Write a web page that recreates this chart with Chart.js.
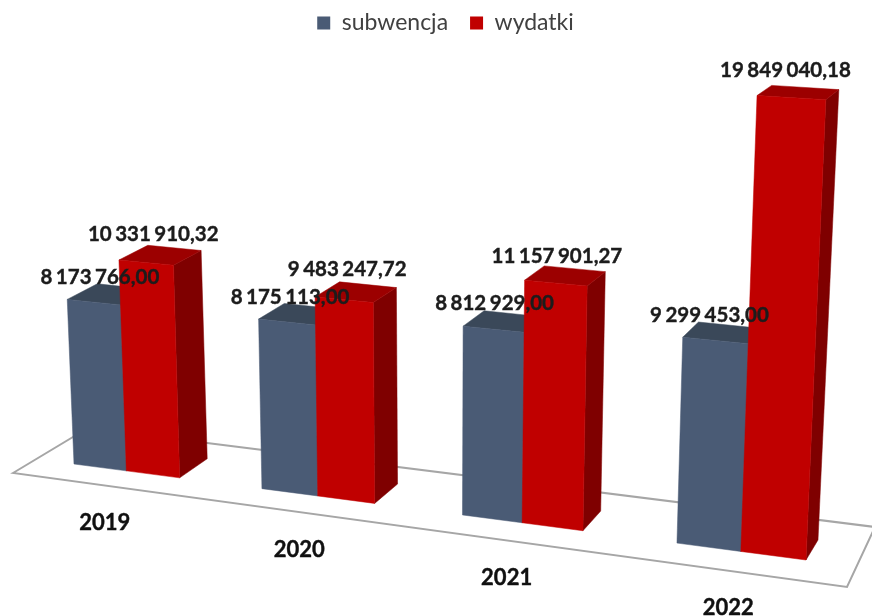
<!DOCTYPE html>
<html>
<head>
<meta charset="utf-8">
<script src="https://cdn.jsdelivr.net/npm/chart.js@4/dist/chart.umd.min.js"></script>
<style>
  html, body { margin: 0; padding: 0; background: #fff; }
  canvas { display: block; }
</style>
</head>
<body>
<canvas id="myChart" width="872" height="616"></canvas>
<script>
var years = ['2019', '2020', '2021', '2022'];
var subwencja = [8173766.00, 8175113.00, 8812929.00, 9299453.00];
var wydatki = [10331910.32, 9483247.72, 11157901.27, 19849040.18];
var axisMax = 20000000;

// where the flat plot rectangle lands on screen: [bottom left, bottom right, top right, top left]
var frontQuad = [[74, 464], [806, 560], [826, 96], [57, 50]];
var backQuad = [[104, 445], [818, 540], [839, 86], [87, 39]];
var floorQuad = [[13, 473], [88, 428], [875, 527], [847, 587]];

// label nudges in px, from the centre of the bar's front face
var labelNudge = [
    [[6, -25], [3, -25], [1, -26], [-6, -25]],
    [[7, -28], [3, -30], [1, -27], [-6, -27]]
];

var faces = [
    { front: '#4a5b75', side: '#35424f', top: '#3a4859' },
    { front: '#c00000', side: '#7f0000', top: '#9c0000' }
];

// unit square to quad (Heckbert)
function quadMap(q) {
    var x0 = q[0][0], y0 = q[0][1], x1 = q[1][0], y1 = q[1][1];
    var x2 = q[2][0], y2 = q[2][1], x3 = q[3][0], y3 = q[3][1];
    var dx1 = x1 - x2, dx2 = x3 - x2, sx = x0 - x1 + x2 - x3;
    var dy1 = y1 - y2, dy2 = y3 - y2, sy = y0 - y1 + y2 - y3;
    var den = dx1 * dy2 - dx2 * dy1;
    var g = (sx * dy2 - dx2 * sy) / den;
    var h = (dx1 * sy - sx * dy1) / den;
    var a = x1 - x0 + g * x1, b = x3 - x0 + h * x3;
    var d = y1 - y0 + g * y1, e = y3 - y0 + h * y3;
    return function (u, v) {
        var w = g * u + h * v + 1;
        return [(a * u + b * v + x0) / w, (d * u + e * v + y0) / w];
    };
}

function formatValue(v) {
    var parts = v.toFixed(2).split('.');
    return parts[0].replace(/\B(?=(\d{3})+$)/g, ' ') + ',' + parts[1];
}

function poly(ctx, pts, color) {
    ctx.beginPath();
    pts.forEach(function (p, i) {
        if (i == 0) ctx.moveTo(p[0], p[1]); else ctx.lineTo(p[0], p[1]);
    });
    ctx.closePath();
    ctx.fillStyle = color;
    ctx.fill();
    ctx.strokeStyle = color;
    ctx.lineWidth = 0.5;
    ctx.stroke();
}

// Lato bold is a bit lighter than the original face
function heavyText(ctx, text, x, y) {
    ctx.fillText(text, x, y);
    ctx.strokeText(text, x, y);
}

var bars3d = {
    id: 'bars3d',
    beforeDatasetsDraw: function (chart) {
        var ctx = chart.ctx;
        ctx.save();
        ctx.beginPath();
        floorQuad.forEach(function (p, i) {
            if (i == 0) ctx.moveTo(p[0], p[1]); else ctx.lineTo(p[0], p[1]);
        });
        ctx.closePath();
        ctx.strokeStyle = '#a6a6a6';
        ctx.lineWidth = 2;
        ctx.stroke();
        ctx.restore();
    },
    // the flat bars are replaced below
    beforeDatasetDraw: function () {
        return false;
    },
    afterDatasetsDraw: function (chart) {
        var ctx = chart.ctx;
        var first = chart.getDatasetMeta(0).data[0];
        var last = chart.getDatasetMeta(1).data[years.length - 1];
        var left = first.x - first.width / 2;
        var right = last.x + last.width / 2;
        var yZero = chart.scales.y.getPixelForValue(0);
        var yMax = chart.scales.y.getPixelForValue(axisMax);
        var frontMap = quadMap(frontQuad), backMap = quadMap(backQuad);
        function uv(x, y) { return [(x - left) / (right - left), (y - yZero) / (yMax - yZero)]; }
        function front(x, y) { var t = uv(x, y); return frontMap(t[0], t[1]); }
        function back(x, y) { var t = uv(x, y); return backMap(t[0], t[1]); }

        ctx.save();
        years.forEach(function (year, i) {
            [0, 1].forEach(function (d) {
                var bar = chart.getDatasetMeta(d).data[i];
                var x0 = bar.x - bar.width / 2, x1 = bar.x + bar.width / 2;
                var f = faces[d];
                poly(ctx, [front(x1, bar.base), back(x1, bar.base), back(x1, bar.y), front(x1, bar.y)], f.side);
                poly(ctx, [front(x0, bar.y), back(x0, bar.y), back(x1, bar.y), front(x1, bar.y)], f.top);
                poly(ctx, [front(x0, bar.base), front(x1, bar.base), front(x1, bar.y), front(x0, bar.y)], f.front);
            });
        });

        // value labels go over every bar
        ctx.textAlign = 'center';
        ctx.textBaseline = 'middle';
        ctx.fillStyle = '#1c1c1c';
        ctx.strokeStyle = '#1c1c1c';
        ctx.lineWidth = 0.4;
        ctx.font = 'bold 20.5px Lato';
        ctx.wordSpacing = '-1.5px';
        years.forEach(function (year, i) {
            [0, 1].forEach(function (d) {
                var bar = chart.getDatasetMeta(d).data[i];
                var a = front(bar.x - bar.width / 2, bar.y), b = front(bar.x + bar.width / 2, bar.y);
                var n = labelNudge[d][i];
                heavyText(ctx, formatValue(chart.data.datasets[d].data[i]),
                    (a[0] + b[0]) / 2 + n[0], (a[1] + b[1]) / 2 + n[1]);
            });
        });

        // year labels hang under the front floor edge
        ctx.font = 'bold 22px Lato';
        ctx.wordSpacing = '0px';
        ctx.fillStyle = '#111111';
        ctx.strokeStyle = '#111111';
        years.forEach(function (year, i) {
            var p = front(chart.scales.x.getPixelForTick(i), yZero);
            heavyText(ctx, year, p[0] - 21.5 + i * 3, p[1] + 52 + i * 1.5);
        });
        ctx.restore();
    }
};

var ctx = document.getElementById('myChart').getContext('2d');
var chart = new Chart(ctx, {
    type: 'bar',
    data: {
        labels: years,
        datasets: [
            { label: 'subwencja', data: subwencja, backgroundColor: faces[0].front },
            { label: 'wydatki', data: wydatki, backgroundColor: faces[1].front }
        ]
    },
    options: {
        responsive: false,
        animation: false,
        layout: { padding: { left: 19, top: -10.5 } },
        datasets: { bar: { categoryPercentage: 0.57, barPercentage: 1 } },
        scales: {
            x: { display: false },
            y: { display: false, min: 0, max: axisMax }
        },
        plugins: {
            tooltip: { enabled: false },
            legend: {
                position: 'top',
                labels: {
                    boxWidth: 13,
                    boxHeight: 13,
                    padding: 22,
                    color: '#404040',
                    font: { family: 'Lato', size: 23 }
                }
            }
        }
    },
    plugins: [bars3d]
});
</script>
</body>
</html>
